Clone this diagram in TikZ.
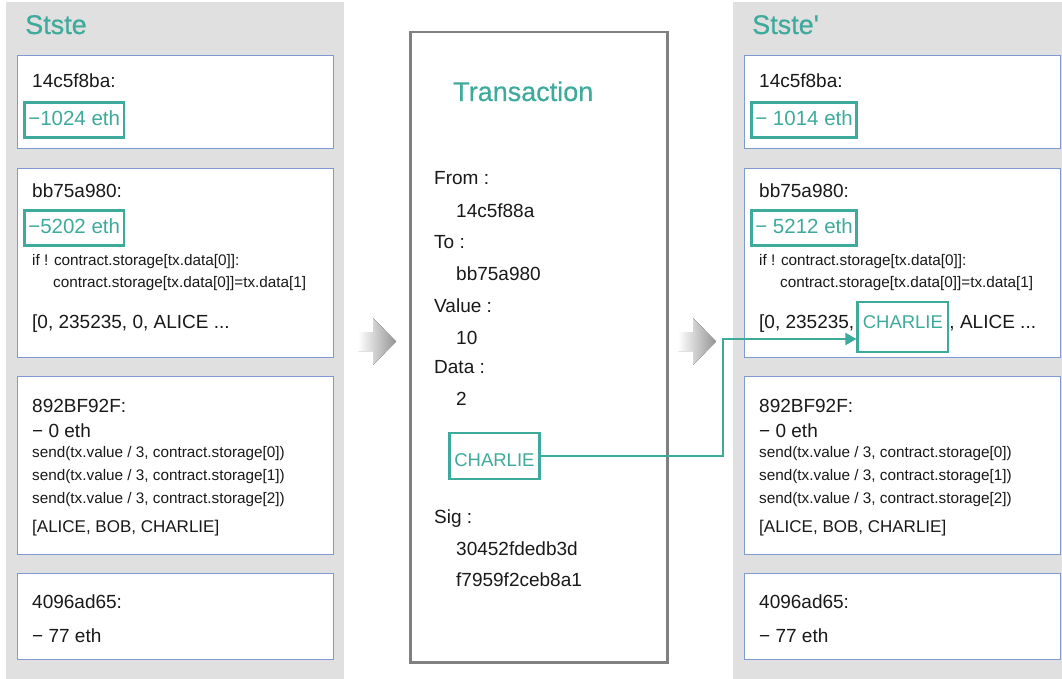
\documentclass[tikz,border=0pt]{standalone}
\usepackage{fontspec}
\setmainfont{Liberation Sans}
\newfontfamily\headfont[FakeBold=0.5]{Liberation Sans}
\usetikzlibrary{arrows.meta, positioning}
\definecolor{tealc}{RGB}{62,170,155}
\definecolor{boxblue}{RGB}{125,155,210}
\definecolor{panelgray}{RGB}{224,224,224}
\definecolor{txgray}{RGB}{128,128,128}

\begin{document}
\begin{tikzpicture}[x=1pt,y=-1pt,>={Triangle[length=11pt,width=12pt]}]

	\tikzset{acct/.style={draw=boxblue, fill=white, line width=1.3pt,
			anchor=north west, minimum width=316pt, minimum height=#1,
			inner sep=0pt}}
	\tikzset{txt/.style={anchor=base west, inner sep=0pt, text=black!90,
			font=\fontsize{19}{23}\selectfont}}
	\tikzset{code/.style={anchor=base west, inner sep=0pt, text=black!90,
			font=\fontsize{15.3}{18}\selectfont}}
	\tikzset{head/.style={anchor=base west, inner sep=0pt, text=tealc,
			font=\headfont\fontsize{27}{30}\selectfont}}
	\tikzset{hl/.style={draw=tealc, line width=2.6pt, text=tealc,
			inner xsep=4pt, inner ysep=8pt, text height=15pt, text depth=4pt,
			anchor=west, font=\fontsize{20.5}{24}\selectfont}}
	\tikzset{slot/.style={draw=tealc, line width=2.6pt, text=tealc,
			inner xsep=5pt, font=\fontsize{18.5}{22}\selectfont}}

	\fill[white] (0,0) rectangle (1062,679);
	\useasboundingbox (0,0) rectangle (1062,679);

	% state columns
	\fill[panelgray] (6,2) rectangle (344,679);
	\fill[panelgray] (733,2) rectangle (1062,679);

	\foreach \p/\dx/\hd/\balA/\balB in {L/0/Stste/{−1024 eth}/{−5202 eth},
		R/727/Stste\textquotesingle/{− 1014 eth}/{− 5212 eth}} {
		\begin{scope}[xshift=\dx]
			\node[head] (\p head) at (25,34) {\hd};

			\node[acct=93pt] (\p1) at (17,55) {};
			\node[txt] (\p addr1) at (32,88) {14c5f8ba:};
			\node[hl] (\p bal1) at (23,120) {\balA};

			\node[acct=189pt] (\p2) at (17,168) {};
			\node[txt] (\p addr2) at (32,197) {bb75a980:};
			\node[hl] (\p bal2) at (23,228) {\balB};
			\node[code] (\p if) at (32,265) {if ! contract.storage[tx.data[0]]:};
			\node[code] (\p set) at (53,287) {contract.storage[tx.data[0]]=tx.data[1]};

			\node[acct=178pt] (\p3) at (17,376) {};
			\node[txt] (\p addr3) at (32,412) {892BF92F:};
			\node[txt] (\p bal3) at (32,437) {− 0 eth};
			\node[code] (\p send0) at (32,457) {send(tx.value / 3, contract.storage[0])};
			\node[code] (\p send1) at (32,480) {send(tx.value / 3, contract.storage[1])};
			\node[code] (\p send2) at (32,503) {send(tx.value / 3, contract.storage[2])};
			\node[txt, font=\fontsize{17}{20}\selectfont] (\p names) at (32,532) {[ALICE, BOB, CHARLIE]};

			\node[acct=86pt] (\p4) at (17,573) {};
			\node[txt] (\p addr4) at (32,608) {4096ad65:};
			\node[txt] (\p bal4) at (32,642) {− 77 eth};
		\end{scope}
	}

	% storage rows before and after
	\node[txt] (Llist) at (32,328) {[0, 235235, 0, ALICE ...};
	\node[txt] (Rlist) at (759,328) {[0, 235235,};
	\node[slot, text height=14pt, text depth=12pt, inner ysep=12pt,
		base right=2pt of Rlist] (Rslot) {CHARLIE};
	\node[txt, base right=0pt of Rslot] (Rrest) {, ALICE ...};

	% transaction
	\node[draw=txgray, line width=2.5pt, anchor=north west, minimum width=257pt,
		minimum height=630pt, inner sep=0pt] (tx) at (409,31) {};
	\node[head] (txhead) at (453,101) {Transaction};
	\node[txt] (from) at (434,185) {From :};
	\node[txt] (fromv) at (456,217) {14c5f88a};
	\node[txt] (to) at (434,248) {To :};
	\node[txt] (tov) at (456,280) {bb75a980};
	\node[txt] (val) at (434,312) {Value :};
	\node[txt] (valv) at (456,344) {10};
	\node[txt] (data) at (434,373) {Data :};
	\node[txt] (datav) at (456,405) {2};
	\node[slot, text height=20pt, text depth=0pt, inner ysep=13pt,
		anchor=base west] (txslot) at (448,466) {CHARLIE};
	\node[txt] (sig) at (434,523) {Sig :};
	\node[txt] (sig1) at (456,555) {30452fdedb3d};
	\node[txt] (sig2) at (456,586) {f7959f2ceb8a1};

	% step arrows
	\foreach \dx in {0,320} {
		\fill[left color=white, right color=black!42, shift={(\dx,0)}]
		(358,332) -- (373,332) -- (373,318) -- (396,341.5) -- (373,365)
		-- (373,351) -- (358,351) -- cycle;
	}

	\coordinate (bend) at (723,339);
	\draw[->, tealc, line width=1.6pt] (txslot.east) -| (bend) -- (bend -| Rslot.west);

\end{tikzpicture}
\end{document}
